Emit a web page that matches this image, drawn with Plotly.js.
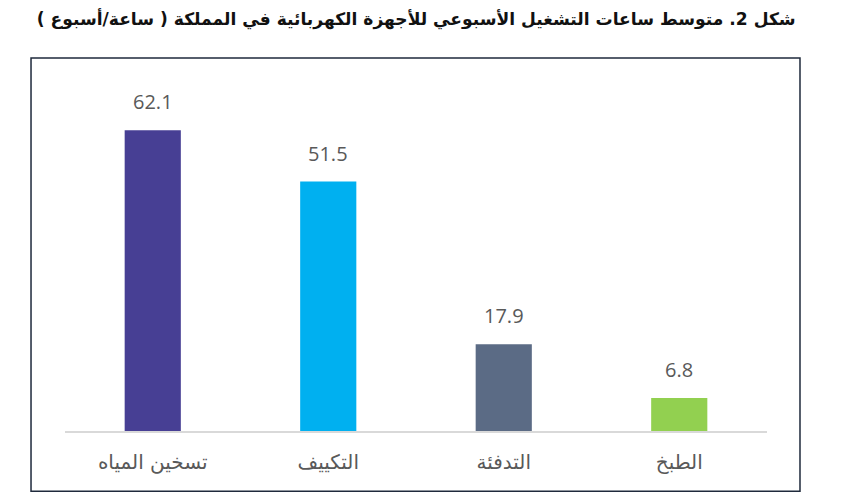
<!DOCTYPE html>
<html>
<head>
<meta charset="utf-8">
<script src="https://cdn.plot.ly/plotly-3.0.1.min.js"></script>
<style>
  html, body { margin: 0; padding: 0; background: #fff; }
  #plotDiv { width: 842px; height: 503px; }
</style>
</head>
<body>
<div id="plotDiv"></div>
<script>
var categories = ['تسخين المياه', 'التكييف', 'التدفئة', 'الطبخ'];
var hours = [62.1, 51.5, 17.9, 6.8];
var barColors = ['#473F94', '#00B0F0', '#5B6B85', '#92D050'];

var bars = {
  type: 'bar',
  x: categories,
  y: hours,
  width: 0.32,
  marker: { color: barColors },
  hoverinfo: 'x+y'
};

// value labels above the bars
var valueLabels = categories.map(function (c, i) {
  return {
    x: c, y: hours[i],
    xref: 'x', yref: 'y',
    text: hours[i].toFixed(1),
    showarrow: false,
    yanchor: 'bottom',
    yshift: 13,
    font: { family: 'Open Sans, DejaVu Sans, sans-serif', size: 20, color: '#595959' }
  };
});

var layout = {
  width: 842,
  height: 503,
  margin: { l: 65, r: 75, t: 92, b: 72 },
  paper_bgcolor: '#ffffff',
  plot_bgcolor: '#ffffff',
  showlegend: false,
  title: {
    text: 'شكل 2. متوسط ساعات التشغيل الأسبوعي للأجهزة الكهربائية في المملكة ( ساعة/أسبوع )',
    font: { family: 'DejaVu Sans, Noto Sans, sans-serif', size: 17.1, color: '#111111', weight: 'bold' },
    xref: 'container',
    x: 0.945,
    xanchor: 'right',
    yref: 'container',
    y: 0.962,
    yanchor: 'middle'
  },
  xaxis: {
    showline: true,
    linecolor: '#D9D9D9',
    linewidth: 2,
    ticks: '',
    ticklabelstandoff: 12,
    tickfont: { family: 'DejaVu Sans, Noto Sans, sans-serif', size: 20, color: '#595959' },
    showgrid: false,
    zeroline: false,
    fixedrange: true
  },
  yaxis: {
    range: [0, 70],
    visible: false,
    showgrid: false,
    zeroline: false,
    fixedrange: true
  },
  annotations: valueLabels,
  shapes: [{
    type: 'rect',
    xref: 'paper', yref: 'paper',
    x0: -0.0484, x1: 1.047,
    y0: -0.178, y1: 1.100,
    line: { color: '#1F2A3C', width: 1.5 },
    fillcolor: 'rgba(0,0,0,0)',
    layer: 'below'
  }]
};

Plotly.newPlot('plotDiv', [bars], layout, { displayModeBar: false, staticPlot: true });
</script>
</body>
</html>
